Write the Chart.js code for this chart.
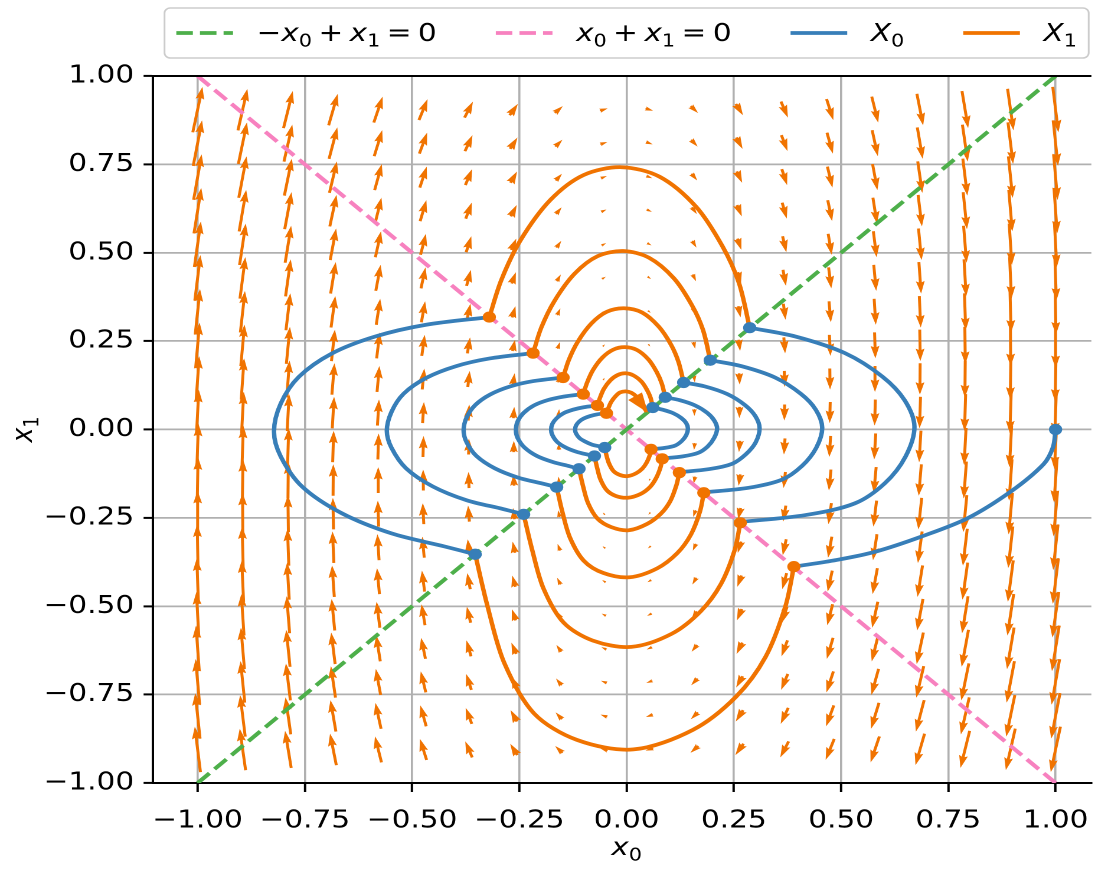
<!DOCTYPE html>
<html>
<head>
<meta charset="utf-8">
<script src="https://cdn.jsdelivr.net/npm/chart.js@4.4.1/dist/chart.umd.min.js"></script>
<style>
  html, body { margin: 0; padding: 0; background: #fff; overflow: hidden; }
  /* figure is laid out 930 wide and widened to the 1098 px window */
  #wrap { width: 930px; height: 869px; transform: scaleX(1.1806); transform-origin: 0 0; }
</style>
</head>
<body>
<div id="wrap"><canvas id="phase"></canvas></div>
<script>
// tick positions
const xTicks = [-1, -0.75, -0.5, -0.25, 0, 0.25, 0.5, 0.75, 1];
const yTicks = [-1, -0.75, -0.5, -0.25, 0, 0.25, 0.5, 0.75, 1];

// switching lines
const diagLine = [[-1, -1], [1, 1]];      // -x0 + x1 = 0
const antiDiagLine = [[-1, 1], [1, -1]];  // x0 + x1 = 0

// pieces of the trajectory that run under X_0 (in time order)
const x0Arcs = [
  [[1, 0], [0.994, -0.05], [0.972, -0.098], [0.895, -0.176], [0.795, -0.251], [0.687, -0.303], [0.579, -0.346], [0.49, -0.369], [0.39, -0.388]],
  [[-0.353, -0.353], [-0.424, -0.331], [-0.548, -0.294], [-0.664, -0.237], [-0.756, -0.162], [-0.806, -0.077], [-0.822, -0.006], [-0.806, 0.074], [-0.764, 0.149], [-0.687, 0.215], [-0.586, 0.263], [-0.469, 0.296], [-0.32, 0.318]],
  [[0.287, 0.288], [0.394, 0.263], [0.509, 0.216], [0.597, 0.149], [0.648, 0.083], [0.671, 0.008], [0.65, -0.077], [0.602, -0.152], [0.532, -0.209], [0.417, -0.242], [0.262, -0.262]],
  [[-0.24, -0.24], [-0.288, -0.225], [-0.373, -0.2], [-0.452, -0.161], [-0.514, -0.11], [-0.548, -0.052], [-0.559, -0.004], [-0.548, 0.05], [-0.52, 0.101], [-0.467, 0.146], [-0.398, 0.179], [-0.319, 0.201], [-0.218, 0.216]],
  [[0.195, 0.196], [0.268, 0.179], [0.346, 0.147], [0.406, 0.101], [0.441, 0.056], [0.456, 0.005], [0.442, -0.052], [0.409, -0.103], [0.362, -0.142], [0.284, -0.165], [0.178, -0.178]],
  [[-0.163, -0.163], [-0.196, -0.153], [-0.253, -0.136], [-0.307, -0.11], [-0.35, -0.075], [-0.373, -0.036], [-0.38, -0.003], [-0.373, 0.034], [-0.353, 0.069], [-0.318, 0.099], [-0.271, 0.122], [-0.217, 0.137], [-0.148, 0.147]],
  [[0.133, 0.133], [0.182, 0.122], [0.235, 0.1], [0.276, 0.069], [0.3, 0.038], [0.31, 0.004], [0.301, -0.036], [0.278, -0.07], [0.246, -0.097], [0.193, -0.112], [0.121, -0.121]],
  [[-0.111, -0.111], [-0.133, -0.104], [-0.172, -0.092], [-0.209, -0.075], [-0.238, -0.051], [-0.254, -0.024], [-0.258, -0.002], [-0.254, 0.023], [-0.24, 0.047], [-0.216, 0.068], [-0.184, 0.083], [-0.147, 0.093], [-0.101, 0.1]],
  [[0.09, 0.091], [0.124, 0.083], [0.16, 0.068], [0.188, 0.047], [0.204, 0.026], [0.211, 0.003], [0.204, -0.024], [0.189, -0.048], [0.167, -0.066], [0.131, -0.076], [0.082, -0.082]],
  [[-0.075, -0.075], [-0.091, -0.071], [-0.117, -0.063], [-0.142, -0.051], [-0.162, -0.035], [-0.173, -0.016], [-0.176, -0.001], [-0.173, 0.016], [-0.163, 0.032], [-0.147, 0.046], [-0.125, 0.056], [-0.1, 0.063], [-0.068, 0.068]],
  [[0.061, 0.062], [0.084, 0.056], [0.109, 0.046], [0.128, 0.032], [0.139, 0.018], [0.143, 0.002], [0.139, -0.016], [0.129, -0.032], [0.114, -0.045], [0.089, -0.052], [0.056, -0.056]],
  [[-0.051, -0.051], [-0.062, -0.048], [-0.08, -0.043], [-0.097, -0.034], [-0.11, -0.024], [-0.118, -0.011], [-0.12, -0.001], [-0.118, 0.011], [-0.111, 0.022], [-0.1, 0.031], [-0.085, 0.038], [-0.068, 0.043], [-0.047, 0.046]]
];

// pieces that run under X_1
const x1Arcs = [
  [[0.39, -0.388], [0.37, -0.501], [0.324, -0.643], [0.255, -0.756], [0.154, -0.85], [0.016, -0.905], [-0.116, -0.878], [-0.216, -0.803], [-0.285, -0.661], [-0.324, -0.501], [-0.353, -0.353]],
  [[-0.32, 0.318], [-0.292, 0.423], [-0.247, 0.536], [-0.178, 0.649], [-0.1, 0.72], [-0.012, 0.742], [0.077, 0.715], [0.162, 0.63], [0.224, 0.517], [0.262, 0.414], [0.287, 0.288]],
  [[0.265, -0.264], [0.252, -0.341], [0.22, -0.437], [0.173, -0.514], [0.105, -0.578], [0.011, -0.615], [-0.079, -0.597], [-0.147, -0.546], [-0.194, -0.449], [-0.22, -0.341], [-0.24, -0.24]],
  [[-0.218, 0.216], [-0.199, 0.288], [-0.168, 0.364], [-0.121, 0.441], [-0.068, 0.49], [-0.008, 0.505], [0.052, 0.486], [0.11, 0.428], [0.152, 0.352], [0.178, 0.282], [0.195, 0.196]],
  [[0.18, -0.179], [0.171, -0.232], [0.15, -0.297], [0.118, -0.35], [0.071, -0.393], [0.007, -0.418], [-0.054, -0.406], [-0.1, -0.371], [-0.132, -0.306], [-0.15, -0.232], [-0.163, -0.163]],
  [[-0.148, 0.147], [-0.135, 0.196], [-0.114, 0.248], [-0.082, 0.3], [-0.046, 0.333], [-0.006, 0.343], [0.036, 0.331], [0.075, 0.291], [0.104, 0.239], [0.121, 0.191], [0.133, 0.133]],
  [[0.123, -0.122], [0.116, -0.158], [0.102, -0.202], [0.08, -0.238], [0.048, -0.267], [0.005, -0.285], [-0.036, -0.276], [-0.068, -0.252], [-0.09, -0.208], [-0.102, -0.158], [-0.111, -0.111]],
  [[-0.101, 0.1], [-0.092, 0.133], [-0.078, 0.169], [-0.056, 0.204], [-0.031, 0.226], [-0.004, 0.233], [0.024, 0.225], [0.051, 0.198], [0.07, 0.163], [0.082, 0.13], [0.09, 0.091]],
  [[0.083, -0.083], [0.079, -0.107], [0.069, -0.137], [0.055, -0.162], [0.033, -0.182], [0.003, -0.193], [-0.025, -0.188], [-0.046, -0.172], [-0.061, -0.141], [-0.069, -0.107], [-0.075, -0.075]],
  [[-0.068, 0.068], [-0.062, 0.09], [-0.053, 0.115], [-0.038, 0.139], [-0.021, 0.154], [-0.003, 0.159], [0.016, 0.153], [0.035, 0.135], [0.048, 0.111], [0.056, 0.089], [0.061, 0.062]],
  [[0.057, -0.056], [0.054, -0.073], [0.047, -0.093], [0.037, -0.11], [0.022, -0.124], [0.002, -0.132], [-0.017, -0.128], [-0.031, -0.117], [-0.041, -0.096], [-0.047, -0.073], [-0.051, -0.051]],
  [[-0.047, 0.046], [-0.042, 0.062], [-0.036, 0.078], [-0.026, 0.094], [-0.015, 0.105], [-0.002, 0.108], [0.011, 0.104], [0.024, 0.092], [0.035, 0.072], [0.047, 0.05]]
];

// arrow head at the end of the run
const endArrow = [[0.018, 0.097], [0.05, 0.047]];

// X_1 vector field sampled on a grid (components in px, v positive = up)
const fieldX = [-1, -0.895, -0.789, -0.684, -0.579, -0.474, -0.368, -0.263, -0.158, -0.053, 0.053, 0.158, 0.263, 0.368, 0.474, 0.579, 0.684, 0.789, 0.895, 1];
const fieldY = [-0.905, -0.81, -0.714, -0.619, -0.524, -0.429, -0.333, -0.238, -0.143, -0.048, 0.048, 0.143, 0.238, 0.333, 0.429, 0.524, 0.619, 0.714, 0.81, 0.905];
const fieldUy = [-6.5, -5.8, -5.1, -4.5, -3.8, -3.1, -2.4, -1.7, -1.0, -0.35, 0.35, 1.0, 1.7, 2.4, 3.1, 3.8, 4.5, 5.1, 5.8, 6.5];
const fieldUx = [1.7, 1.5, 1.3, 1.2, 1.0, 0.8, 0.6, 0.45, 0.27, 0.1, -0.1, -0.27, -0.45, -0.6, -0.8, -1.0, -1.2, -1.3, -1.5, -1.7];
const fieldV = [45.5, 41.5, 37, 31.5, 26, 21, 16, 11.3, 6.8, 2.3, -2.3, -6.8, -11.3, -16, -21, -26, -31.5, -37, -41.5, -45.5];

// legend and axis texts, "_" marks a subscript
const legendLabels = ['−x_0 + x_1 = 0', 'x_0 + x_1 = 0', 'X_0', 'X_1'];
const axisLabels = ['x_0', 'x_1'];

const BLUE = '#377eb8';
const ORANGE = '#f07300';
const GREEN = '#4daf4a';
const PINK = '#f781bf';
const FONT = 'DejaVu Sans';
const FS = 25;
const LW = 3.75;
const DASH = [14, 6];

const pts = (arc) => arc.map(([x, y]) => ({ x, y }));
const fmt = (v) => (v < 0 ? '−' : '') + Math.abs(v).toFixed(2);

// --- little mathtext-ish text runs ---
function parseMath(str) {
  const runs = [];
  for (let i = 0; i < str.length; i++) {
    const ch = str[i];
    if (ch === ' ') runs.push({ gap: 0.22 });
    else if (ch === '_') runs.push({ t: str[++i], sub: true });
    else runs.push({ t: ch, it: /[A-Za-z]/.test(ch) });
  }
  return runs;
}
const runFont = (r, size) => (r.it ? 'italic ' : '') + (r.sub ? size * 0.7 : size) + 'px "' + FONT + '"';
function measureRuns(ctx, runs, size) {
  let w = 0;
  runs.forEach((r) => {
    if (r.gap) { w += r.gap * size; return; }
    ctx.font = runFont(r, size);
    w += ctx.measureText(r.t).width;
  });
  return w;
}
function drawRuns(ctx, runs, x, y, size) {
  ctx.textAlign = 'left';
  ctx.textBaseline = 'alphabetic';
  runs.forEach((r) => {
    if (r.gap) { x += r.gap * size; return; }
    ctx.font = runFont(r, size);
    ctx.fillText(r.t, x, y + (r.sub ? size * 0.22 : 0));
    x += ctx.measureText(r.t).width;
  });
}

// quiver arrow, same polygon as matplotlib (pivot in the middle)
function drawQuiverArrow(ctx, px, py, u, v, w) {
  const len = Math.hypot(u, v);
  if (len < w) return;
  const L = len / w;
  let xs = [0, L - 4.5, L - 5, L, L - 5, L - 4.5, 0];
  let ys = [0.5, 0.5, 1.5, 0, -1.5, -0.5, -0.5];
  if (L < 5) {
    const k = L / 5;
    xs = [0, 0.5, 0, 5, 0, 0.5, 0].map((t) => t * k);
    ys = ys.map((t) => t * k);
  }
  const shift = xs[3] / 2;
  ctx.save();
  ctx.translate(px, py);
  ctx.rotate(Math.atan2(-v, u));
  ctx.scale(w, w);
  ctx.beginPath();
  xs.forEach((t, k) => (k ? ctx.lineTo(t - shift, ys[k]) : ctx.moveTo(t - shift, ys[k])));
  ctx.closePath();
  ctx.fill();
  ctx.restore();
}

const quiverPlugin = {
  id: 'quiver',
  beforeDatasetsDraw(chart) {
    const { ctx, chartArea: a, scales: { x, y } } = chart;
    ctx.save();
    ctx.beginPath();
    ctx.rect(a.left, a.top, a.right - a.left, a.bottom - a.top);
    ctx.clip();
    ctx.fillStyle = ORANGE;
    fieldX.forEach((fx, i) => {
      fieldY.forEach((fy, j) => {
        drawQuiverArrow(ctx, x.getPixelForValue(fx), y.getPixelForValue(fy), fieldUy[j] + fieldUx[i], fieldV[i], 2.5);
      });
    });
    ctx.restore();
  },
  afterDatasetsDraw(chart) {
    // arrow head marking where the run stops
    const { ctx, scales: { x, y } } = chart;
    const [p, q] = endArrow;
    const x0 = x.getPixelForValue(p[0]), y0 = y.getPixelForValue(p[1]);
    const x1 = x.getPixelForValue(q[0]), y1 = y.getPixelForValue(q[1]);
    const d = Math.hypot(x1 - x0, y1 - y0);
    const ux = (x1 - x0) / d, uy = (y1 - y0) / d;
    const hl = 20, hw = 7;
    ctx.save();
    ctx.fillStyle = ORANGE;
    ctx.beginPath();
    ctx.moveTo(x1, y1);
    ctx.lineTo(x1 - ux * hl - uy * hw, y1 - uy * hl + ux * hw);
    ctx.lineTo(x1 - ux * hl + uy * hw, y1 - uy * hl - ux * hw);
    ctx.closePath();
    ctx.fill();
    ctx.restore();
  }
};

const framePlugin = {
  id: 'frame',
  afterDraw(chart) {
    const { ctx, chartArea: a, scales: { x } } = chart;
    ctx.save();
    // top spine
    ctx.strokeStyle = '#000';
    ctx.lineWidth = 2;
    ctx.beginPath();
    ctx.moveTo(a.left - 1, a.top);
    ctx.lineTo(a.right, a.top);
    ctx.stroke();

    // legend above the axes
    const styles = [
      { color: GREEN, dash: DASH },
      { color: PINK, dash: DASH },
      { color: BLUE, dash: [] },
      { color: ORANGE, dash: [] }
    ];
    const handle = 48, hpad = 20, colsp = 50, bpad = 10;
    const runs = legendLabels.map(parseMath);
    const widths = runs.map((r) => measureRuns(ctx, r, FS));
    const total = 2 * bpad + widths.reduce((s, w) => s + handle + hpad + w, 0) + colsp * (widths.length - 1);
    const left = x.getPixelForValue(0) - total / 2;
    const top = 8, h = 50, cy = top + h / 2;
    ctx.fillStyle = 'rgba(255,255,255,0.8)';
    ctx.strokeStyle = '#cccccc';
    ctx.lineWidth = 1.5;
    ctx.beginPath();
    ctx.roundRect(left, top, total, h, 5);
    ctx.fill();
    ctx.stroke();
    let cx = left + bpad;
    runs.forEach((r, i) => {
      ctx.strokeStyle = styles[i].color;
      ctx.lineWidth = LW;
      ctx.setLineDash(styles[i].dash);
      ctx.beginPath();
      ctx.moveTo(cx, cy);
      ctx.lineTo(cx + handle, cy);
      ctx.stroke();
      ctx.setLineDash([]);
      ctx.fillStyle = '#000';
      drawRuns(ctx, r, cx + handle + hpad, cy + 8, FS);
      cx += handle + hpad + widths[i] + colsp;
    });

    // axis titles
    const xl = parseMath(axisLabels[0]);
    drawRuns(ctx, xl, x.getPixelForValue(0) - measureRuns(ctx, xl, FS) / 2, 855, FS);
    const yl = parseMath(axisLabels[1]);
    ctx.translate(27, (a.top + a.bottom) / 2);
    ctx.rotate(-Math.PI / 2);
    drawRuns(ctx, yl, -measureRuns(ctx, yl, FS) / 2, 0, FS);
    ctx.restore();
  }
};

const arcSet = (arc, color) => ({
  data: pts(arc),
  showLine: true,
  borderColor: color,
  borderWidth: LW,
  borderJoinStyle: 'round',
  pointRadius: 0,
  tension: 0.32
});

const datasets = [
  { data: x0Arcs.map((a) => ({ x: a[0][0], y: a[0][1] })), backgroundColor: BLUE, pointRadius: 5.6, pointBorderWidth: 0 },
  { data: x1Arcs.map((a) => ({ x: a[0][0], y: a[0][1] })), backgroundColor: ORANGE, pointRadius: 5.6, pointBorderWidth: 0 },
  ...x0Arcs.map((a) => arcSet(a, BLUE)),
  ...x1Arcs.map((a) => arcSet(a, ORANGE)),
  { data: pts(diagLine), showLine: true, borderColor: GREEN, borderWidth: LW, borderDash: DASH, pointRadius: 0 },
  { data: pts(antiDiagLine), showLine: true, borderColor: PINK, borderWidth: LW, borderDash: DASH, pointRadius: 0 }
];

const tickFont = { family: FONT, size: FS };
const gridOpts = (len) => ({ color: '#b0b0b0', lineWidth: 1.8, tickColor: '#000', tickLength: len, tickWidth: 2 });

new Chart(document.getElementById('phase'), {
  type: 'scatter',
  data: { datasets },
  options: {
    responsive: true,
    maintainAspectRatio: false,
    devicePixelRatio: 2,
    animation: false,
    events: [],
    layout: { padding: { top: 76, left: 0, right: 0, bottom: 0 } },
    plugins: { legend: { display: false }, tooltip: { enabled: false } },
    scales: {
      x: {
        type: 'linear',
        min: -1.104,
        max: 1.0834,
        afterBuildTicks: (s) => { s.ticks = xTicks.map((v) => ({ value: v })); },
        // fixed axis box; labels near the ends must not shrink the plot
        afterFit: (s) => { s.height = 86; s.paddingLeft = 0; s.paddingRight = 0; },
        ticks: { callback: fmt, font: tickFont, color: '#000', padding: 14, maxRotation: 0, autoSkip: false },
        grid: gridOpts(9),
        border: { color: '#000', width: 2 }
      },
      y: {
        type: 'linear',
        min: -1,
        max: 1,
        afterBuildTicks: (s) => { s.ticks = yTicks.map((v) => ({ value: v })); },
        afterFit: (s) => { s.width = 129.6; s.paddingTop = 0; s.paddingBottom = 0; },
        ticks: { callback: fmt, font: tickFont, color: '#000', padding: 8, autoSkip: false },
        grid: gridOpts(8),
        border: { color: '#000', width: 2 }
      }
    }
  },
  plugins: [quiverPlugin, framePlugin]
});
</script>
</body>
</html>
